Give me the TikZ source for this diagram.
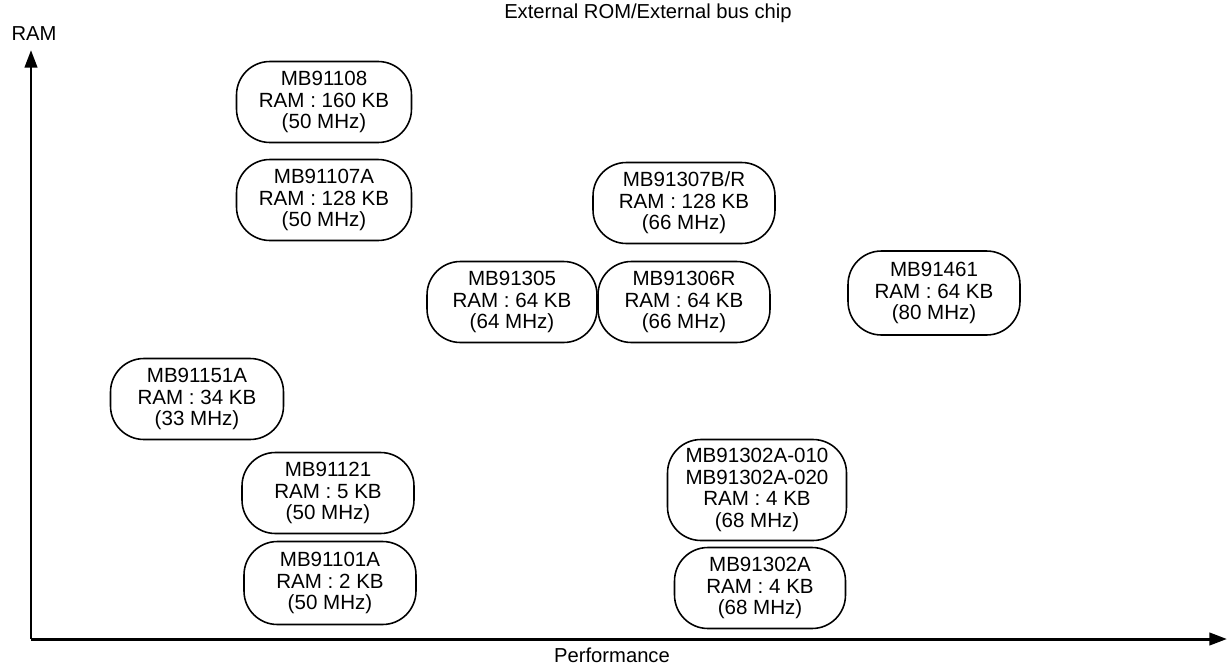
\documentclass[tikz,border=0pt]{standalone}
\usepackage{fontspec}
\setmainfont{Liberation Sans}
\usepackage{tikz}
\usetikzlibrary{arrows.meta}

\begin{document}
\begin{tikzpicture}[
  x=0.02cm, y=-0.02cm,
  chip/.style={draw, line width=0.9pt, rounded corners=19pt,
               minimum width=3.5cm, minimum height=1.62cm, inner sep=0pt,
               align=center, font=\fontsize{11.7}{12.3}\selectfont},
  lbl/.style={font=\fontsize{11.5}{12.3}\selectfont, inner sep=0pt},
  arr/.style={-{Triangle[length=10pt,width=7pt]}, line width=1.7pt},
]
\useasboundingbox (0,0) rectangle (1227,666);
\coordinate (orig) at (31,639);
\coordinate (ytip) at (31,50);
\coordinate (xtip) at (1227,639);
\draw[arr] (orig) -- (ytip);
\draw[arr] (orig) -- (xtip);
\node[lbl] (ramlbl) at (34,34) {RAM};
\node[lbl] (perflbl) at (612,655) {Performance};
\node[lbl] (title) at (648,13) {External ROM/External bus chip};

\node[chip] (mb91108) at (324,102) {MB91108\\RAM : 160 KB\\(50 MHz)};
\node[chip] (mb91107a) at (324,200) {MB91107A\\RAM : 128 KB\\(50 MHz)};
\node[chip, minimum width=3.64cm] (mb91307br) at (684,203) {MB91307B/R\\RAM : 128 KB\\(66 MHz)};
\node[chip, minimum width=3.4cm] (mb91305) at (512,302) {MB91305\\RAM : 64 KB\\(64 MHz)};
\node[chip, minimum width=3.44cm] (mb91306r) at (684,302) {MB91306R\\RAM : 64 KB\\(66 MHz)};
\node[chip, minimum width=3.44cm, minimum height=1.68cm] (mb91461) at (934,293) {MB91461\\RAM : 64 KB\\(80 MHz)};
\node[chip, minimum width=3.46cm] (mb91151a) at (197,399) {MB91151A\\RAM : 34 KB\\(33 MHz)};
\node[chip, minimum width=3.44cm] (mb91121) at (328,493) {MB91121\\RAM : 5 KB\\(50 MHz)};
\node[chip, minimum width=3.44cm, minimum height=1.66cm] (mb91101a) at (330,583) {MB91101A\\RAM : 2 KB\\(50 MHz)};
\node[chip, minimum width=3.58cm, minimum height=2.02cm] (mb91302a010) at (757,490) {MB91302A-010\\MB91302A-020\\RAM : 4 KB\\(68 MHz)};
\node[chip, minimum width=3.42cm] (mb91302a) at (760,588) {MB91302A\\RAM : 4 KB\\(68 MHz)};
\end{tikzpicture}
\end{document}
